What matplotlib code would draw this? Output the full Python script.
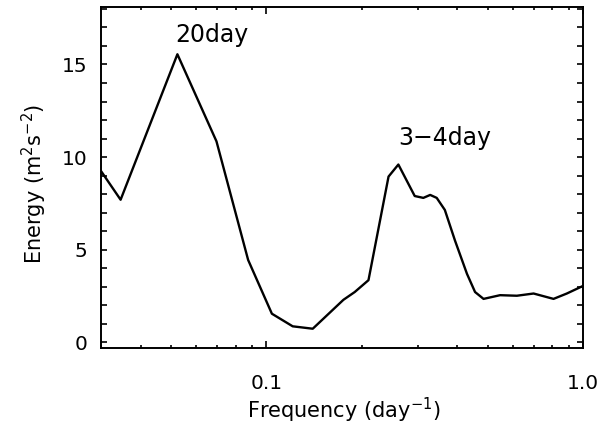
""" Energy spectrum with 20-day and 3-4 day peaks """

import matplotlib
matplotlib.use("Agg")
import matplotlib.pyplot as plt
from matplotlib.ticker import FixedLocator, MultipleLocator, NullFormatter

plt.rcParams['font.family'] = ['DejaVu Sans']

# values
freq = [0.030, 0.0346, 0.0523, 0.0695, 0.0875, 0.104, 0.121, 0.140,
        0.175, 0.190, 0.210, 0.243, 0.261, 0.294, 0.313, 0.329, 0.345,
        0.366, 0.394, 0.430, 0.456, 0.485, 0.547, 0.618, 0.698, 0.807,
        0.889, 1.0]
energy = [9.25, 7.7, 15.55, 10.85, 4.45, 1.55, 0.87, 0.74,
          2.3, 2.72, 3.36, 8.95, 9.6, 7.9, 7.8, 7.96, 7.8,
          7.15, 5.5, 3.7, 2.72, 2.35, 2.55, 2.52, 2.64, 2.35,
          2.64, 3.05]

peak_labels = ["20day", "3\u22124day"]
peak_x = [0.0672, 0.366]
peak_y = [16.2, 10.65]

fig = plt.figure(figsize=(6.03, 4.26), dpi=100)
ax = fig.add_axes([101/603, (426-348)/426, (583-101)/603, (348-7)/426])

ax.plot(freq, energy, color='black', lw=1.7)

for txt, x, y in zip(peak_labels, peak_x, peak_y):
    ax.text(x, y, txt, ha='center', va='baseline', fontsize=17)

ax.set_xscale('log')
ax.set_xlim(0.03, 1.0)
ax.set_ylim(-0.3, 18.1)

ax.xaxis.set_major_locator(FixedLocator([0.1, 1.0]))
ax.xaxis.set_minor_locator(FixedLocator([0.03, 0.04, 0.05, 0.06, 0.07, 0.08, 0.09,
                                         0.2, 0.3, 0.4, 0.5, 0.6, 0.7, 0.8, 0.9]))
ax.xaxis.set_minor_formatter(NullFormatter())
ax.set_xticklabels(["0.1", "1.0"])
ax.yaxis.set_major_locator(MultipleLocator(5))
ax.yaxis.set_minor_locator(MultipleLocator(1))

ax.tick_params(which='both', direction='in', top=True, right=True,
               labelsize=14.5, width=1.2)
ax.tick_params(axis='y', which='both', length=4.5, pad=10)
ax.tick_params(axis='x', which='major', length=5, pad=19)
ax.tick_params(axis='x', which='minor', length=2.5)
for s in ax.spines.values():
    s.set_linewidth(1.4)

ax.set_xlabel("Frequency (day$^{-1}$)", fontsize=15)
ax.set_ylabel("Energy (m$^2$s$^{-2}$)", fontsize=15)
ax.xaxis.set_label_coords(0.503, -0.14)
ax.yaxis.set_label_coords(-0.108, 0.482)

fig.savefig("out.png", dpi=100)
